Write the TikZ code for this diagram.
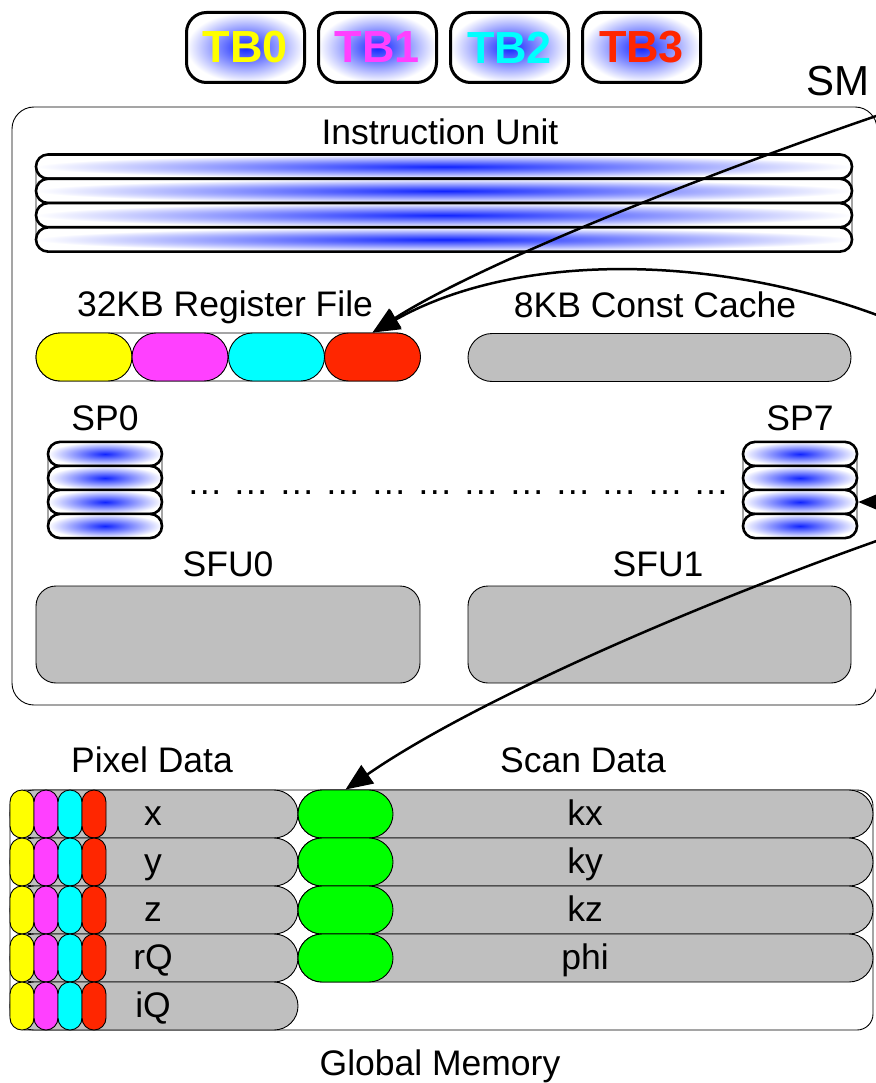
\documentclass[tikz,border=0pt]{standalone}
\usepackage{fontspec}
\setmainfont{Liberation Sans}
\usetikzlibrary{arrows.meta}
\definecolor{pyellow}{RGB}{255,255,0}
\definecolor{pmagenta}{RGB}{255,64,255}
\definecolor{pcyan}{RGB}{0,255,255}
\definecolor{pred}{RGB}{255,38,0}
\definecolor{pgray}{RGB}{191,191,191}
\definecolor{pgreen}{RGB}{0,255,0}
\definecolor{pblue}{RGB}{16,36,255}

\begin{document}
\begin{tikzpicture}[x=1pt,y=-1pt,
  lbl/.style={font=\fontsize{35.5}{42}\selectfont, anchor=base, inner sep=0pt},
  tbbox/.style={draw, line width=3pt, rounded corners=20pt, minimum width=118pt,
    minimum height=70pt, inner color=pblue, outer color=white,
    font=\fontsize{45}{50}\selectfont\bfseries, inner sep=0pt},
  ibar/.style={draw, line width=2.6pt, rounded corners=12pt, minimum width=#1,
    minimum height=24.2pt, inner color=pblue, outer color=white, inner sep=0pt},
  thinbox/.style={draw, line width=0.9pt},
  pill/.style={draw, line width=0.9pt, inner sep=0pt, rounded corners=24pt,
    minimum height=48pt, minimum width=#1},
  vpill/.style={draw, line width=0.9pt, inner sep=0pt, rounded corners=12pt,
    minimum height=48pt, minimum width=24pt},
  flow/.style={draw, line width=2.5pt, -{Triangle[length=27pt,width=22pt]}},
]
\useasboundingbox (0,0) rectangle (875,1083);

% thread blocks
\node[tbbox, text=pyellow]  (tb0) at (245.5,47.5) {TB0};
\node[tbbox, text=pmagenta] (tb1) at (377.5,47.5) {TB1};
\node[tbbox, text=pcyan]    (tb2) at (509.5,47.5) {TB2};
\node[tbbox, text=pred]     (tb3) at (641.5,47.5) {TB3};

% streaming multiprocessor
\node[font=\fontsize{42}{48}\selectfont, anchor=base, inner sep=0pt] (smlbl) at (838,96) {SM};
\draw[thinbox, rounded corners=22pt] (12,107) rectangle (877,705);

% instruction unit
\node[lbl] (iulbl) at (440,145) {Instruction Unit};
\draw[thinbox, rounded corners=12pt] (36,154.5) rectangle (852,251.5);
\foreach \k in {0,...,3}
  \node[ibar=816pt] (ib\k) at (444,166.6+24.3*\k) {};

% register file
\node[lbl] (rflbl) at (225,316) {32KB Register File};
\draw[thinbox, rounded corners=24pt] (36,333) rectangle (420,381);
\node[pill=96pt, fill=pyellow]  (rf0) at (84,357) {};
\node[pill=96pt, fill=pmagenta] (rf1) at (180,357) {};
\node[pill=96pt, fill=pcyan]    (rf2) at (276.5,357) {};
\node[pill=96pt, fill=pred]     (rf3) at (372.5,357) {};

% constant cache
\node[lbl] (cclbl) at (655,317) {8KB Const Cache};
\node[pill=383pt, fill=pgray] (cc) at (659.5,357.5) {};

% scalar processors
\node[lbl] (sp0lbl) at (105,430) {SP0};
\node[lbl] (sp7lbl) at (800,430) {SP7};
\draw[thinbox, rounded corners=12pt] (48,442) rectangle (162,538);
\draw[thinbox, rounded corners=12pt] (743,442) rectangle (857,538);
\foreach \k in {0,...,3} {
  \node[ibar=114pt] (spa\k) at (105,454+24*\k) {};
  \node[ibar=114pt] (spb\k) at (800,454+24*\k) {};
}
\node[lbl, font=\fontsize{36}{40}\selectfont] (dots) at (458,494)
  {… … … … … … … … … … … …};

% special function units
\node[lbl] (sfu0lbl) at (228,576) {SFU0};
\node[lbl] (sfu1lbl) at (658,576) {SFU1};
\node[draw, line width=0.9pt, fill=pgray, rounded corners=20pt, minimum width=384pt,
  minimum height=97pt] (sfu0) at (228,634.5) {};
\node[draw, line width=0.9pt, fill=pgray, rounded corners=20pt, minimum width=383pt,
  minimum height=97pt] (sfu1) at (659.5,634.5) {};

% global memory
\node[lbl] (pdlbl) at (152,772) {Pixel Data};
\node[lbl] (sdlbl) at (583,772) {Scan Data};
\node[lbl] (gmlbl) at (440,1075) {Global Memory};
\draw[thinbox, rounded corners=16pt] (10,790) rectangle (873,1030);

\foreach \t [count=\i from 0] in {x,y,z,rQ,iQ} {
  \draw[thinbox, fill=pgray, rounded corners=24pt] (10,790+48*\i) rectangle (298,838+48*\i);
  \foreach \c [count=\j from 0] in {pyellow,pmagenta,pcyan,pred}
    \node[vpill, fill=\c] (pc\i\j) at (22+24*\j,814+48*\i) {};
  \node[lbl] (pl\i) at (153,825+48*\i) {\t};
}
\foreach \t [count=\i from 0] in {kx,ky,kz,phi} {
  \draw[thinbox, fill=pgray, rounded corners=24pt] (298,790+48*\i) rectangle (873,838+48*\i);
  \node[pill=95pt, fill=pgreen] (gk\i) at (345.5,814+48*\i) {};
  \node[lbl] (sl\i) at (585,825+48*\i) {\t};
}

% data flow into the multiprocessor
\coordinate (in1) at (885,113);
\coordinate (in2) at (885,318);
\coordinate (in3) at (910,502);
\coordinate (in4) at (885,538);
\draw[flow] (in1) .. controls (700,176) and (478,265) .. (rf3.north);
\draw[flow] (in2) .. controls (720,255) and (520,250) .. (rf3.north);
\draw[flow] (in3) -- (spb2.east);
\draw[flow] (in4) .. controls (700,603) and (475,700) .. (gk0.north);
\end{tikzpicture}
\end{document}
